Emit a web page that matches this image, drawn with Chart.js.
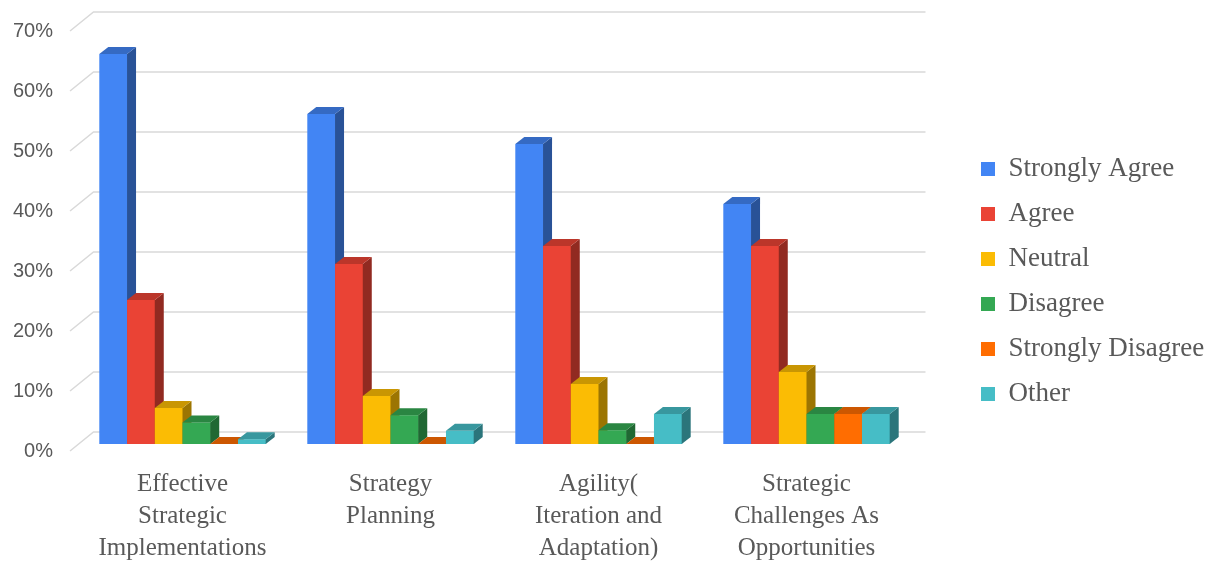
<!DOCTYPE html>
<html><head><meta charset="utf-8">
<script src="https://cdn.jsdelivr.net/npm/chart.js@4.4.1/dist/chart.umd.min.js"></script>
<style>html,body{margin:0;padding:0;background:#fff;overflow:hidden;}</style>
</head><body>
<canvas id="c" width="1215" height="562" style="display:block;width:1215px;height:562px"></canvas>
<script>
const categories = [["Effective","Strategic","Implementations"],["Strategy","Planning"],["Agility(","Iteration and","Adaptation)"],["Strategic","Challenges As","Opportunities"]];
const seriesNames = ["Strongly Agree","Agree","Neutral","Disagree","Strongly Disagree","Other"];
const stronglyAgree = [65,55,50,40];
const agree = [24,30,33,33];
const neutral = [6,8,10,12];
const disagree = [3.6,4.8,2.3,5];
const stronglyDisagree = [0,0,0,5];
const other = [0.8,2.2,5,5];
const yTicks = [0,10,20,30,40,50,60,70];
const colors = ["#4285F4","#EA4335","#FBBC04","#34A853","#FF6D01","#46BDC6"];

const seriesValues = [stronglyAgree, agree, neutral, disagree, stronglyDisagree, other];
const DX = 9, DY = -7;
const LEG_W = 304.5;
const LEG_FONT = 27;

function shade(hex, f){
  const n = parseInt(hex.slice(1),16);
  const r = Math.round(((n>>16)&255)*f), g = Math.round(((n>>8)&255)*f), b = Math.round((n&255)*f);
  return `rgb(${r},${g},${b})`;
}

const bars3d = {
  id: 'bars3d',
  beforeDatasetsDraw(chart){
    const ctx = chart.ctx;
    const ys = chart.scales.y;
    const {left, right} = chart.chartArea;
    ctx.save();
    ctx.strokeStyle = '#D9D9D9';
    ctx.lineWidth = 1.5;
    yTicks.forEach(v => {
      const p = ys.getPixelForValue(v);
      ctx.beginPath();
      ctx.moveTo(left - 8.5, p + 7);
      ctx.lineTo(left + 15, p - 12);
      ctx.lineTo(right + 15, p - 12);
      ctx.stroke();
    });
    chart.data.datasets.forEach((ds, i) => {
      const meta = chart.getDatasetMeta(i);
      if (meta.hidden) return;
      meta.data.forEach(el => {
        const {x, y, base, width} = el.getProps(['x','y','base','width'], true);
        const l = x - width/2, r = x + width/2;
        const c = ds.backgroundColor;
        ctx.fillStyle = c;
        ctx.fillRect(l, y, width + 0.5, base - y);
        ctx.fillStyle = shade(c, 0.62);
        ctx.beginPath();
        ctx.moveTo(r, y); ctx.lineTo(r + DX, y + DY); ctx.lineTo(r + DX, base + DY); ctx.lineTo(r, base);
        ctx.closePath(); ctx.fill();
        ctx.fillStyle = shade(c, 0.8);
        ctx.beginPath();
        ctx.moveTo(l, y); ctx.lineTo(r, y); ctx.lineTo(r + DX, y + DY); ctx.lineTo(l + DX, y + DY);
        ctx.closePath(); ctx.fill();
      });
    });
    ctx.restore();
    return false;
  }
};

const legendPlace = {
  id: 'legendPlace',
  beforeLayout(chart){
    const lg = chart.legend;
    if (lg && !lg._wrappedFit){
      const f = lg.fit.bind(lg);
      lg.fit = function(){ f(); this.width = LEG_W; };
      lg._wrappedFit = true;
    }
  },
  afterLayout(chart){
    const lg = chart.legend;
    if (!lg) return;
    const pad = 45 - LEG_FONT;
    const w = lg.width;
    lg.left = 981 - pad; lg.right = lg.left + w;
    lg.top = 169 - pad - LEG_FONT / 2; lg.bottom = 562;
  }
};

new Chart(document.getElementById('c'), {
  type: 'bar',
  data: {
    labels: categories,
    datasets: seriesNames.map((n, i) => ({
      label: n,
      data: seriesValues[i],
      backgroundColor: colors[i],
      borderWidth: 0
    }))
  },
  options: {
    responsive: false,
    animation: false,
    devicePixelRatio: 1,
    layout: { padding: { top: 24, left: 0, right: 0, bottom: 0 } },
    datasets: { bar: { categoryPercentage: 0.8, barPercentage: 1.0 } },
    plugins: {
      tooltip: { enabled: false },
      legend: {
        position: 'right',
        align: 'start',
        labels: {
          boxWidth: 14, boxHeight: 14,
          padding: 45 - LEG_FONT,
          color: '#595959',
          font: { family: '"Liberation Serif", "Times New Roman", serif', size: LEG_FONT }
        }
      }
    },
    scales: {
      x: {
        grid: { display: false, drawTicks: false },
        border: { display: false },
        ticks: {
          color: '#595959',
          padding: 24,
          maxRotation: 0, minRotation: 0, autoSkip: false,
          font: { family: '"Liberation Serif", "Times New Roman", serif', size: 25, lineHeight: 1.28 }
        },
        afterFit(s){ s.height = 118; s.paddingLeft = 0; s.paddingRight = 0; }
      },
      y: {
        min: 0, max: 70,
        grid: { display: false, drawTicks: false },
        border: { display: false },
        ticks: {
          stepSize: 10,
          color: '#595959',
          padding: 25.5,
          labelOffset: 7,
          font: { family: '"Liberation Sans", Arial, sans-serif', size: 20 },
          callback: v => v + '%'
        },
        afterFit(s){ s.width = 78.5; s.paddingTop = 0; s.paddingBottom = 0; }
      }
    }
  },
  plugins: [legendPlace, bars3d]
});
</script>
</body></html>
